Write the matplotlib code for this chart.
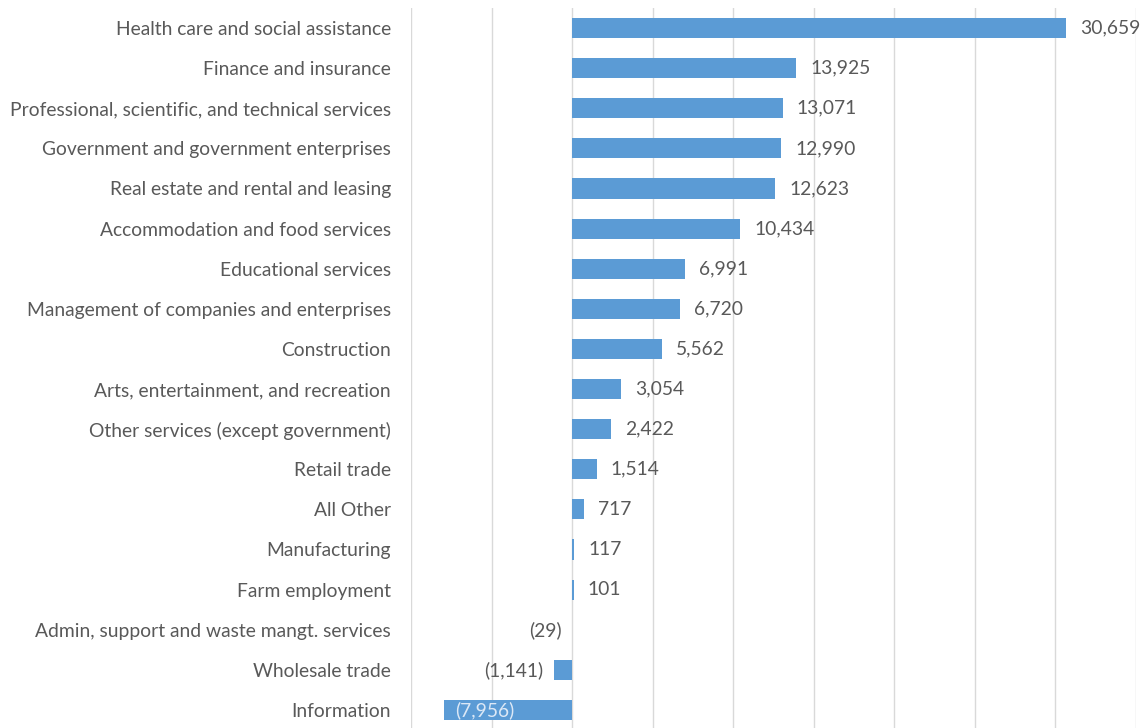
import matplotlib
matplotlib.use("Agg")
import matplotlib.pyplot as plt
from matplotlib.transforms import offset_copy

categories = [
    "Health care and social assistance",
    "Finance and insurance",
    "Professional, scientific, and technical services",
    "Government and government enterprises",
    "Real estate and rental and leasing",
    "Accommodation and food services",
    "Educational services",
    "Management of companies and enterprises",
    "Construction",
    "Arts, entertainment, and recreation",
    "Other services (except government)",
    "Retail trade",
    "All Other",
    "Manufacturing",
    "Farm employment",
    "Admin, support and waste mangt. services",
    "Wholesale trade",
    "Information",
]
values = [30659, 13925, 13071, 12990, 12623, 10434, 6991, 6720, 5562,
          3054, 2422, 1514, 717, 117, 101, -29, -1141, -7956]

BAR = "#5B9BD5"
TEXT = "#595959"
GRID = "#D9D9D9"
FONT = "Lato"
FS = 13.9

plt.rcParams["font.family"] = [FONT, "DejaVu Sans"]

fig = plt.figure(figsize=(11.43, 7.28), dpi=100)
ax = fig.add_axes([411 / 1143, -2 / 728, (1136 - 411) / 1143, 722 / 728])

y = list(range(len(categories)))
ax.barh(y, values, height=0.5, color=BAR, zorder=3)

ax.set_xlim(-10000, 35000)
ax.set_ylim(len(categories) - 0.5, -0.5)
ax.set_xticks(range(-10000, 35001, 5000))
ax.xaxis.grid(True, color=GRID, linewidth=1.0, zorder=0)
ax.tick_params(axis="x", length=0, labelbottom=False)
ax.tick_params(axis="y", length=0, pad=14.5, labelsize=FS, labelcolor=TEXT)
ax.set_yticks(y)
ax.set_yticklabels(categories)
for s in ax.spines.values():
    s.set_visible(False)


def fmt(v):
    return f"{v:,}" if v >= 0 else f"({-v:,})"


for yi, v in zip(y, values):
    if v >= 0:
        tr = offset_copy(ax.transData, fig=fig, x=14, y=0, units="dots")
        ax.text(v, yi, fmt(v), ha="left", va="center", fontsize=FS,
                color=TEXT, transform=tr, zorder=4)
    elif v > -5000:
        tr = offset_copy(ax.transData, fig=fig, x=-10, y=0, units="dots")
        ax.text(v, yi, fmt(v), ha="right", va="center", fontsize=FS,
                color=TEXT, transform=tr, zorder=4)
    else:
        tr = offset_copy(ax.transData, fig=fig, x=11, y=0, units="dots")
        ax.text(v, yi, fmt(v), ha="left", va="center", fontsize=FS,
                color="#DCE8F6", transform=tr, zorder=4)

fig.savefig("out.png", dpi=100)
